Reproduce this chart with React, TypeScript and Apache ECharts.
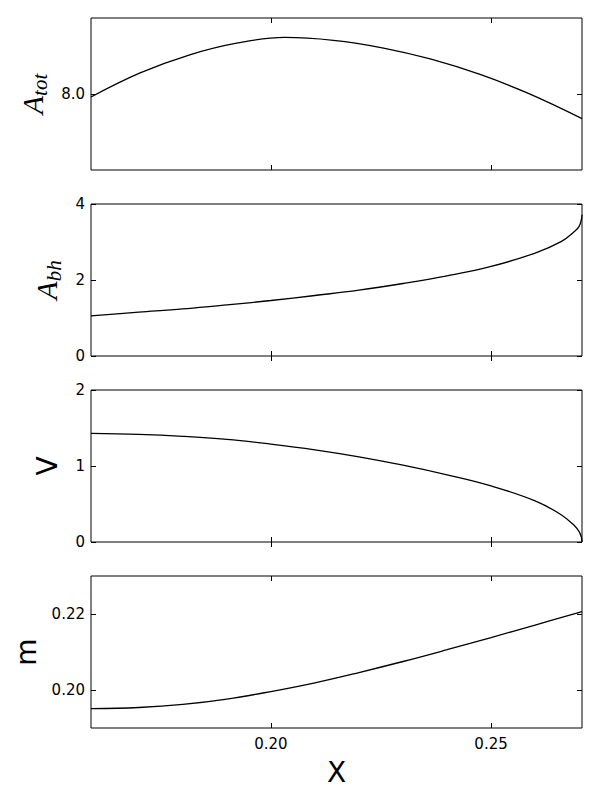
import React, { useEffect, useRef } from "react";
import * as echarts from "echarts";

const X_ATOT = [0.15915, 0.1703, 0.1814, 0.1925, 0.2031, 0.2142, 0.2253, 0.2364, 0.2475, 0.2586, 0.27065];
const X_COARSE = [0.15915, 0.17, 0.18, 0.19, 0.2, 0.21, 0.22, 0.23, 0.24, 0.25, 0.26, 0.27065];
const X_FINE = [0.15915, 0.17, 0.18, 0.19, 0.2, 0.21, 0.22, 0.23, 0.24, 0.25, 0.26, 0.266, 0.269, 0.27, 0.2705, 0.27065];

const A_TOT = [7.996, 8.0277, 8.0513, 8.0672, 8.0744, 8.0706, 8.0608, 8.0458, 8.0257, 8.0005, 7.9676];
const A_BH = [1.055, 1.152, 1.239, 1.345, 1.46, 1.592, 1.732, 1.908, 2.109, 2.357, 2.708, 3.016, 3.28, 3.41, 3.586, 3.717];
const V = [1.429, 1.416, 1.39, 1.35, 1.288, 1.213, 1.121, 1.011, 0.884, 0.738, 0.541, 0.356, 0.211, 0.137, 0.066, 0.0];
const M = [0.1951, 0.1954, 0.1962, 0.1976, 0.1996, 0.2019, 0.2046, 0.2075, 0.2106, 0.2138, 0.2171, 0.2206];

const X_MIN = 0.15915;
const X_MAX = 0.27065;
const X_TICKS = [0.2, 0.25];

const PANELS = [
  { xs: X_ATOT, data: A_TOT, min: 7.9, max: 8.1, ticks: [8.0], dec: 1, name: "{a|A}{s|tot}", gap: 40 },
  { xs: X_FINE, data: A_BH, min: 0, max: 4, ticks: [0, 2, 4], dec: 0, name: "{a|A}{s|bh}", gap: 26 },
  { xs: X_FINE, data: V, min: 0, max: 2, ticks: [0, 1, 2], dec: 0, name: "V", gap: 30 },
  { xs: X_COARSE, data: M, min: 0.19, max: 0.23, ticks: [0.2, 0.22], dec: 2, name: "m", gap: 51 },
];

const TOPS = [18, 204, 390, 576];

export default function App() {
  const ref = useRef<HTMLDivElement>(null);
  useEffect(() => {
    if (!ref.current) return;
    const chart = echarts.init(ref.current, null, { renderer: "svg" });
    const font = "DejaVu Sans";
    const tick = { show: true, inside: true, length: 5, lineStyle: { color: "#000", width: 1 } };
    const grids: any[] = [];
    const xAxes: any[] = [];
    const yAxes: any[] = [];
    const series: any[] = [];
    PANELS.forEach((p, i) => {
      grids.push({
        left: 91,
        width: 491,
        top: TOPS[i],
        height: 152,
        show: true,
        borderColor: "#000",
        borderWidth: 1,
        backgroundColor: "#fff",
      });
      const last = i === PANELS.length - 1;
      ["bottom", "top"].forEach((pos) => {
        const isBottom = pos === "bottom";
        xAxes.push({
          type: "value",
          gridIndex: i,
          position: pos,
          min: X_MIN,
          max: X_MAX,
          axisLine: { show: false },
          splitLine: { show: false },
          axisTick: { ...tick, customValues: X_TICKS },
          axisLabel: {
            show: isBottom && last,
            customValues: X_TICKS,
            formatter: (v: number) => v.toFixed(2),
            fontFamily: font,
            fontSize: 15,
            color: "#000",
            margin: 8,
          },
          name: isBottom && last ? "X" : "",
          nameLocation: "middle",
          nameGap: 30,
          nameTextStyle: { fontFamily: font, fontSize: 28, color: "#000" },
        });
      });
      ["left", "right"].forEach((pos) => {
        const isLeft = pos === "left";
        yAxes.push({
          type: "value",
          gridIndex: i,
          position: pos,
          min: p.min,
          max: p.max,
          axisLine: { show: false },
          splitLine: { show: false },
          axisTick: { ...tick, customValues: p.ticks },
          axisLabel: {
            show: isLeft,
            customValues: p.ticks,
            formatter: (v: number) => v.toFixed(p.dec),
            fontFamily: font,
            fontSize: 15,
            color: "#000",
            margin: 6,
          },
          name: isLeft ? p.name : "",
          nameLocation: "middle",
          nameRotate: 90,
          nameGap: p.gap,
          nameTextStyle: {
            fontFamily: font,
            fontSize: 28,
            color: "#000",
            rich: {
              a: { fontFamily: "Liberation Serif", fontStyle: "italic", fontSize: 30, color: "#000", lineHeight: 36 },
              s: {
                fontFamily: "Liberation Serif",
                fontStyle: "italic",
                fontSize: 21,
                color: "#000",
                verticalAlign: "bottom",
                lineHeight: 26,
              },
            },
          },
        });
      });
      series.push({
        type: "line",
        xAxisIndex: i * 2,
        yAxisIndex: i * 2,
        data: p.xs.map((x, j) => [x, p.data[j]]),
        showSymbol: false,
        smooth: 0.4,
        lineStyle: { color: "#000", width: 1.3 },
        silent: true,
      });
    });
    chart.setOption({
      animation: false,
      backgroundColor: "#fff",
      grid: grids,
      xAxis: xAxes,
      yAxis: yAxes,
      series,
    });
    return () => chart.dispose();
  }, []);
  return <div ref={ref} style={{ position: "absolute", left: 0, top: 0, width: 600, height: 800 }} />;
}
